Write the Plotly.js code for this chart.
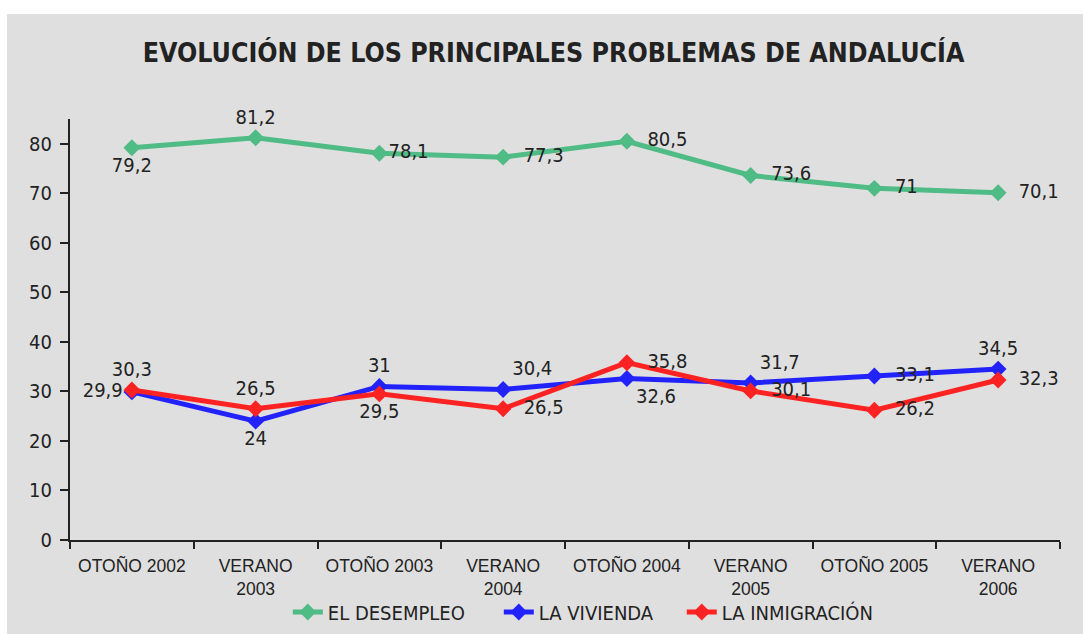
<!DOCTYPE html>
<html>
<head>
<meta charset="utf-8">
<script src="https://cdn.plot.ly/plotly-3.0.1.min.js"></script>
<style>
  html, body { margin: 0; padding: 0; background: #ffffff; width: 1083px; height: 634px; overflow: hidden; }
  #chart { position: absolute; left: 7px; top: 14px; width: 1076px; height: 620px; }
</style>
</head>
<body>
<div id="chart"></div>
<script>
const categories = ["OTOÑO 2002", "VERANO<br>2003", "OTOÑO 2003", "VERANO<br>2004", "OTOÑO 2004", "VERANO<br>2005", "OTOÑO 2005", "VERANO<br>2006"];
const desempleo = [79.2, 81.2, 78.1, 77.3, 80.5, 73.6, 71, 70.1];
const vivienda = [29.9, 24, 31, 30.4, 32.6, 31.7, 33.1, 34.5];
const inmigracion = [30.3, 26.5, 29.5, 26.5, 35.8, 30.1, 26.2, 32.3];

const posDesempleo = ["bottom center", "top center", "middle right", "middle right", "middle right", "middle right", "middle right", "middle right"];
const padDesempleo = [0, 0, 0, 2, 2, 2, 2, 2];
const posVivienda = ["middle left", "bottom center", "top center", "top right", "bottom right", "top right", "middle right", "top center"];
const padVivienda = [0, 0, 0, 0, 0, 0, 2, 0];
const posInmigracion = ["top center", "top center", "bottom center", "middle right", "middle right", "middle right", "middle right", "middle right"];
const padInmigracion = [0, 0, 0, 2, 2, 2, 2, 2];

const NB = '\u00a0';
const fmt = (v, p) => NB.repeat(p) + String(v).replace('.', ',');
const NARROW = '"DejaVu Sans Condensed", "Liberation Sans Narrow", "Arial Narrow", sans-serif';

function trace(name, vals, color, pos, pad, lw) {
  return {
    type: 'scatter', mode: 'lines+markers+text', name: name,
    x: categories, y: vals,
    text: vals.map((v, i) => fmt(v, pad[i])), textposition: pos,
    textfont: {family: NARROW, size: 20, color: '#222222'},
    line: {color: color, width: 5},
    marker: {symbol: 'diamond', size: 13, color: color},
    cliponaxis: false,
    legendwidth: lw
  };
}

const data = [
  trace('EL DESEMPLEO', desempleo, '#4fbb85', posDesempleo, padDesempleo, 166),
  trace('LA VIVIENDA', vivienda, '#2222ff', posVivienda, padVivienda, 138),
  trace('LA INMIGRACIÓN', inmigracion, '#ff2222', posInmigracion, padInmigracion, 0)
];

const layout = {
  width: 1076, height: 620,
  paper_bgcolor: '#dfdfdf', plot_bgcolor: '#dfdfdf',
  margin: {l: 63, r: 23, t: 105, b: 94, autoexpand: false},
  title: {
    text: '<b>EVOLUCIÓN DE LOS PRINCIPALES PROBLEMAS DE ANDALUCÍA</b>',
    font: {family: NARROW, size: 26.5, color: '#222222'},
    x: 0.508, xanchor: 'center', xref: 'container',
    y: 0.937, yref: 'container', yanchor: 'middle'
  },
  xaxis: {
    type: 'category', range: [-0.5, 7.5], automargin: false,
    showline: true, linecolor: '#222222', linewidth: 2,
    ticks: 'outside', tickson: 'boundaries', ticklen: 7, tickwidth: 2, tickcolor: '#222222',
    showgrid: false, zeroline: false,
    tickfont: {family: '"Liberation Sans", Arial, sans-serif', size: 17.5, color: '#222222'},
    ticklabelstandoff: 9
  },
  yaxis: {
    range: [0, 85], tickvals: [0, 10, 20, 30, 40, 50, 60, 70, 80], automargin: false,
    showline: true, linecolor: '#222222', linewidth: 2,
    ticks: 'outside', ticklen: 8, tickwidth: 2, tickcolor: '#222222',
    showgrid: false, zeroline: false,
    tickfont: {family: NARROW, size: 20, color: '#222222'},
    ticklabelstandoff: 4
  },
  showlegend: true,
  legend: {
    orientation: 'h', x: 0.22, xanchor: 'left', y: 0.0355, yref: 'container', yanchor: 'middle',
    bgcolor: 'rgba(0,0,0,0)',
    font: {family: NARROW, size: 20, color: '#222222'}
  }
};

Plotly.newPlot('chart', data, layout, {displayModeBar: false, staticPlot: true});
</script>
</body>
</html>
